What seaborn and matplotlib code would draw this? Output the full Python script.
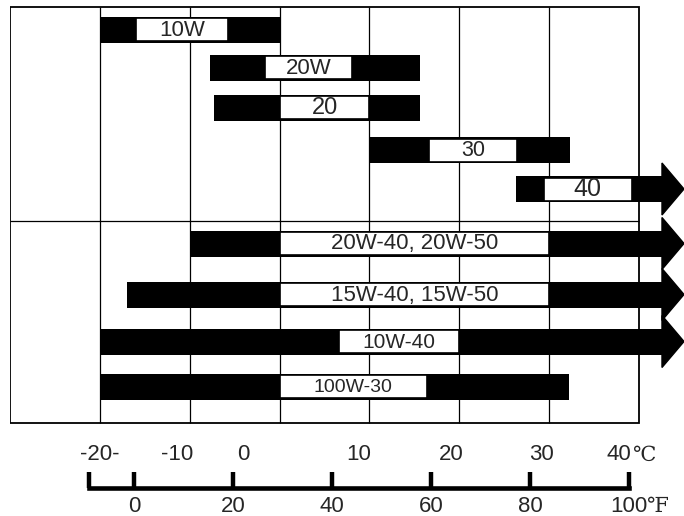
import matplotlib
matplotlib.use("Agg")
import matplotlib.pyplot as plt
import matplotlib.transforms as mtransforms
from matplotlib.patches import Rectangle
import seaborn as sns

# oil grades and the temperature range (deg C) each one covers
grades = ["10W", "20W", "20", "30", "40",
          "20W-40, 20W-50", "15W-40, 15W-50", "10W-40", "100W-30"]
temp_low = [-20, -7.8, -7.3, 9.9, 26.3, -10, -17, -20, -20]
temp_high = [0, 15.6, 15.6, 32.3, 45, 45, 45, 45, 32.2]
open_ended = [False, False, False, False, True, True, True, True, False]
# white label box span on each bar
label_low = [-16, -1.6, 0, 16.6, 29.4, 0, 0, 6.6, 0]
label_high = [-5.7, 8.1, 10, 26.4, 39.2, 30, 30, 20, 16.4]
label_size = [16, 16, 17, 15.5, 18, 16, 16, 15, 14]

# scale below the chart
c_ticks = [-20, -10, 0, 10, 20, 30]
c_labels = ["-20-", "-10", "0", "10", "20", "30", "40"]
c_label_pos = [-19.99, -11.42, -4.07, 8.83, 19.07, 29.09, 37.71]
f_ticks = [0, 20, 40, 60, 80, 100]
f_labels = ["0", "20", "40", "60", "80", "100"]
f_scale_start = -9.1

sns.set_style("white")
plt.rcParams['font.family'] = ['Liberation Sans', 'DejaVu Sans']

W, H = 684, 516
fig = plt.figure(figsize=(W / 100, H / 100), dpi=100)

# ---- main chart, x in deg C, y in pixel rows ----
top_h = 430
ax = fig.add_axes([10 / W, (H - top_h) / H, 674 / W, top_h / H])
ax.set_xlim(-30, 45)
ax.set_ylim(top_h, 0)
ax.axis("off")

row_y = [29.5, 67.5, 107.5, 150, 189, 243.5, 294.5, 341.5, 386.5]
bar_h = 26
head_len = 2.4
head_half = 26

box_top, box_bot = 7, 423
ax.add_patch(Rectangle((-30, box_top), 70, box_bot - box_top, fill=False,
                       edgecolor="black", lw=1.3, zorder=1))
ax.vlines(c_ticks, box_top, box_bot, color="black", lw=0.9, zorder=1)
ax.hlines(221, -30, 40, color="black", lw=0.9, zorder=1)

for i, g in enumerate(grades):
    y = row_y[i]
    lo, hi = temp_low[i], temp_high[i]
    shaft_end = hi - head_len if open_ended[i] else hi
    ax.barh(y, shaft_end - lo, left=lo, height=bar_h, color="black",
            edgecolor="none", zorder=2)
    if open_ended[i]:
        ax.fill([shaft_end - 0.05, hi, shaft_end - 0.05],
                [y - head_half, y, y + head_half],
                color="black", zorder=2, clip_on=False)
    ax.barh(y, label_high[i] - label_low[i], left=label_low[i],
            height=bar_h - 3, color="white", edgecolor="black", lw=1.2,
            zorder=3)
    ax.text((label_low[i] + label_high[i]) / 2, y + 0.5, g,
            ha="center", va="center", fontsize=label_size[i], zorder=4)

# ---- temperature scale, x in deg F ----
bax = fig.add_axes([0, 0, 1, (H - top_h) / H])
px_per_f = 4.95
f_zero_px = 134
bax.set_xlim(-f_zero_px / px_per_f, (W - f_zero_px) / px_per_f)
bax.set_ylim(H - top_h, 0)
bax.axis("off")

line_y = 58
bax.plot([f_scale_start, f_ticks[-1]], [line_y, line_y], color="black",
         lw=3.3, solid_capstyle="projecting")
bax.vlines([f_scale_start] + f_ticks, line_y - 16, line_y, color="black", lw=3.2)

for f, lab in zip(f_ticks, f_labels):
    bax.text(f, 76, lab, ha="center", va="center", fontsize=16)
f_unit = mtransforms.offset_copy(bax.transData, fig=fig, x=12.5, y=0, units="points")
bax.text(f_ticks[-1], 76, "℉", ha="left", va="center", fontsize=15,
         family=["DejaVu Serif"], transform=f_unit)

mixed = mtransforms.blended_transform_factory(ax.transData, bax.transData)
for c, lab in zip(c_label_pos, c_labels):
    bax.text(c, 25, lab, ha="center", va="center", fontsize=16, transform=mixed)
c_unit = mtransforms.offset_copy(mixed, fig=fig, x=9.5, y=0, units="points")
bax.text(c_label_pos[-1], 25, "℃", ha="left", va="center", fontsize=15,
         family=["DejaVu Serif"], transform=c_unit)

fig.savefig("out.png", dpi=100)
